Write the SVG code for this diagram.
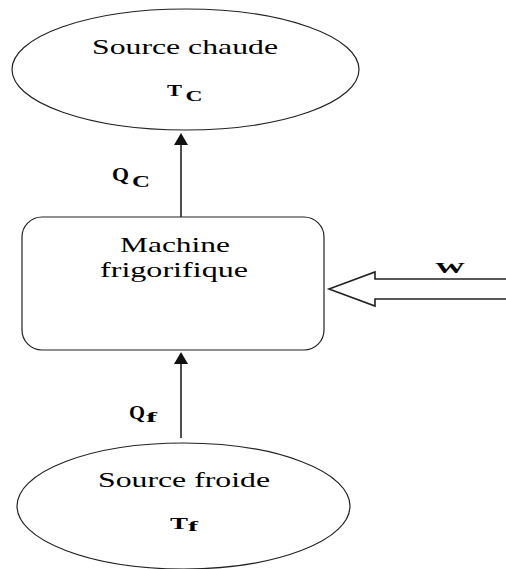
<svg xmlns="http://www.w3.org/2000/svg" width="506" height="569" viewBox="0 0 506 569">
  <defs>
    <style>
      .shape { fill: #ffffff; stroke: #222222; stroke-width: 1.2; }
      .wire { stroke: #222222; stroke-width: 1.6; fill: none; }
      .head { fill: #111111; stroke: none; }
      .lbl { font-family: "Liberation Serif", "Times New Roman", serif; fill: #000000; }
      .b { font-weight: bold; }
    </style>
  </defs>

  <rect width="506" height="569" fill="#ffffff"/>

  <!-- hot reservoir -->
  <g id="source-chaude">
    <ellipse class="shape" cx="185.5" cy="69.5" rx="173.5" ry="60.5"/>
    <text class="lbl" x="185" y="54" font-size="22" text-anchor="middle" textLength="186" lengthAdjust="spacingAndGlyphs">Source chaude</text>
    <text class="lbl b" x="167" y="95.5" font-size="17" textLength="15" lengthAdjust="spacingAndGlyphs">T</text>
    <text class="lbl b" x="185.5" y="101" font-size="15" textLength="17" lengthAdjust="spacingAndGlyphs">C</text>
  </g>

  <!-- refrigerating machine -->
  <g id="machine">
    <rect class="shape" x="22" y="217" width="302" height="133" rx="20" ry="20"/>
    <text class="lbl" x="175" y="252" font-size="22" text-anchor="middle" textLength="110" lengthAdjust="spacingAndGlyphs">Machine</text>
    <text class="lbl" x="174" y="277" font-size="22" text-anchor="middle" textLength="148" lengthAdjust="spacingAndGlyphs">frigorifique</text>
  </g>

  <!-- cold reservoir -->
  <g id="source-froide">
    <ellipse class="shape" cx="183.5" cy="506" rx="166.5" ry="63"/>
    <text class="lbl" x="184" y="487" font-size="22" text-anchor="middle" textLength="172" lengthAdjust="spacingAndGlyphs">Source froide</text>
    <text class="lbl b" x="170" y="528.5" font-size="17" textLength="18" lengthAdjust="spacingAndGlyphs">T</text>
    <text class="lbl b" x="188" y="531" font-size="15" textLength="10" lengthAdjust="spacingAndGlyphs">f</text>
  </g>

  <!-- heat and work flows -->
  <g id="connectors">
    <line class="wire" x1="181" y1="217" x2="181" y2="143"/>
    <polygon class="head" points="181,133 174,145 188,145"/>
    <line class="wire" x1="181" y1="438" x2="181" y2="362"/>
    <polygon class="head" points="181,352 174,364 188,364"/>
    <path class="wire" d="M506,279 H375 V272 L329,289 L375,306 V299 H506"/>

    <text class="lbl b" x="112" y="181" font-size="19" textLength="17" lengthAdjust="spacingAndGlyphs">Q</text>
    <text class="lbl b" x="132" y="187" font-size="16" textLength="18" lengthAdjust="spacingAndGlyphs">C</text>

    <text class="lbl b" x="129" y="419" font-size="19" textLength="16" lengthAdjust="spacingAndGlyphs">Q</text>
    <text class="lbl b" x="146" y="422" font-size="15" textLength="11" lengthAdjust="spacingAndGlyphs">f</text>

    <text class="lbl b" x="435" y="273" font-size="15" textLength="30" lengthAdjust="spacingAndGlyphs">W</text>
  </g>
</svg>
